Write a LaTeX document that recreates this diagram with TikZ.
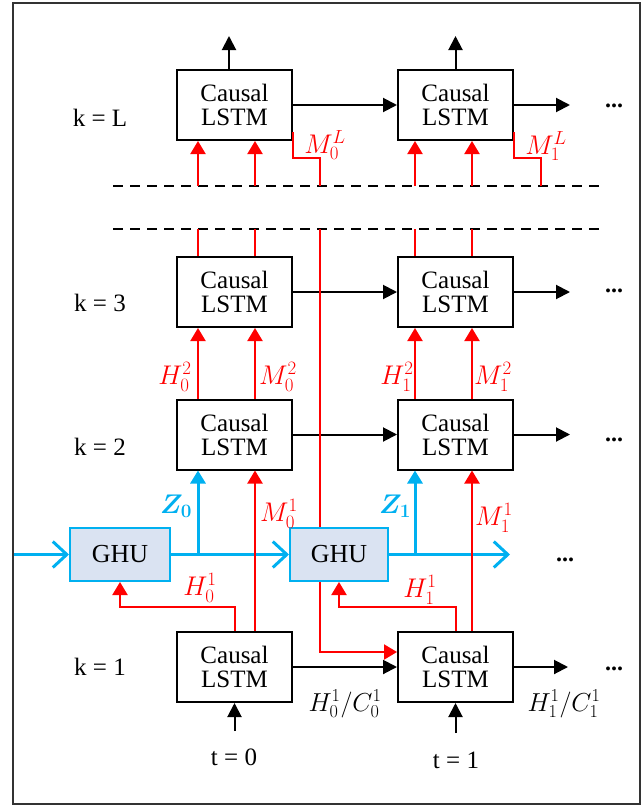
\RequirePackage{fix-cm}
\documentclass[tikz,border=0pt]{standalone}
\usepackage{amsmath,bm}
\usepackage{fontspec}
\setmainfont{Liberation Serif}
\usetikzlibrary{arrows.meta}
\definecolor{myred}{RGB}{255,0,0}
\definecolor{myblue}{RGB}{0,176,240}
\definecolor{ghufill}{RGB}{218,227,242}
\begin{document}
\begin{tikzpicture}[x=1pt,y=-1pt,
  lstm/.style={draw, line width=2pt, minimum width=115pt, minimum height=70pt, inner sep=0pt, align=center, font=\fontsize{25}{24}\selectfont},
  ghu/.style={draw=myblue, fill=ghufill, line width=2pt, minimum width=100pt, minimum height=53pt, inner sep=0pt, font=\fontsize{26}{26}\selectfont},
  blk/.style={line width=2pt, -{Triangle[length=14pt,width=14pt]}},
  redarr/.style={myred, line width=2pt, -{Triangle[length=13pt,width=15pt]}},
  redln/.style={myred, line width=2pt},
  bluearr/.style={myblue, line width=3pt, -{Straight Barb[length=14pt,width=26pt]}},
  bluez/.style={myblue, line width=3pt, -{Triangle[length=13pt,width=15pt]}},
  lbl/.style={font=\fontsize{25}{25}\selectfont, inner sep=0pt},
  rlbl/.style={text=myred, font=\fontsize{27}{27}\selectfont, inner sep=0pt},
  blbl/.style={text=myblue, font=\fontsize{27}{27}\selectfont, inner sep=0pt},
  dotlbl/.style={font=\fontsize{24}{24}\selectfont\bfseries, inner sep=0pt, anchor=base},
  dashline/.style={line width=2pt, dash pattern=on 10pt off 7pt}
]
\useasboundingbox (0,0) rectangle (644,806);
\draw[line width=2pt, draw=black!80] (13,3) rectangle (640,804);

% boxes
\node[lstm] (box0L) at (234.5,105) {Causal\\LSTM};
\node[lstm] (box1L) at (455.5,105) {Causal\\LSTM};
\node[lstm] (box03) at (234.5,292) {Causal\\LSTM};
\node[lstm] (box13) at (455.5,292) {Causal\\LSTM};
\node[lstm] (box02) at (234.5,434.5) {Causal\\LSTM};
\node[lstm] (box12) at (455.5,434.5) {Causal\\LSTM};
\node[lstm] (box01) at (234.5,667) {Causal\\LSTM};
\node[lstm] (box11) at (455.5,667) {Causal\\LSTM};

% column coordinates
\coordinate (cA0) at (198,0);
\coordinate (cB0) at (255,0);
\coordinate (cC0) at (320,0);
\coordinate (cA1) at (415,0);
\coordinate (cB1) at (472,0);
\coordinate (cD1) at (541,0);

% dashed lines
\coordinate (dl1) at (113,186); \coordinate (dr1) at (601,186);
\coordinate (dl2) at (113,229); \coordinate (dr2) at (601,229);
\draw[dashline] (dl1) -- (dr1);
\draw[dashline] (dl2) -- (dr2);

% k labels
\node[lbl] (kL) at (100,118) {k = L};
\node[lbl] (k3) at (100,303) {k = 3};
\node[lbl] (k2) at (100,447) {k = 2};
\node[lbl] (k1) at (100,667) {k = 1};

% top outputs
\coordinate (top0) at (229,36);
\coordinate (top1) at (455.5,36);
\draw[blk] (top0 |- box0L.north) -- (top0);
\draw[blk] (box1L.north) -- (top1);

% horizontal black arrows
\coordinate (oL) at (570,105);
\coordinate (o3) at (570,292);
\coordinate (o2) at (570,434.5);
\coordinate (o1) at (568,667);
\draw[blk] (box0L.east) -- (box1L.west);
\draw[blk] (box1L.east) -- (oL);
\draw[blk] (box03.east) -- (box13.west);
\draw[blk] (box13.east) -- (o3);
\draw[blk] (box02.east) -- (box12.west);
\draw[blk] (box12.east) -- (o2);
\draw[blk] (box01.east) -- (box11.west);
\draw[blk] (box11.east) -- (o1);

\node[dotlbl] (dL) at (614,107) {...};
\node[dotlbl] (d3) at (614,292) {...};
\node[dotlbl] (d2) at (614,441) {...};
\node[dotlbl] (d1) at (614,670) {...};
\node[dotlbl] (dB) at (565,561) {...};

% GHU
\node[ghu] (ghu0) at (120,554.5) {GHU};
\node[ghu, minimum width=98pt] (ghu1) at (339,554.5) {GHU};
\coordinate (bin) at (14,554.5);
\coordinate (bout) at (510,554.5);
\draw[bluearr] (bin) -- (ghu0.west);
\draw[bluearr] (ghu0.east) -- (ghu1.west);
\draw[bluearr] (ghu1.east) -- (bout);

% Z arrows
\coordinate (z0) at (198,554.5);
\coordinate (z1) at (415,554.5);
\draw[bluez] (z0) -- (z0 |- box02.south);
\draw[bluez] (z1) -- (z1 |- box12.south);
\node[blbl] (Z0) at (176,506) {$\boldsymbol{Z}_{\boldsymbol{0}}$};
\node[blbl] (Z1) at (395,506) {$\boldsymbol{Z}_{\boldsymbol{1}}$};

% red into L boxes
\draw[redarr] (cA0 |- dr1) -- (cA0 |- box0L.south);
\draw[redarr] (cB0 |- dr1) -- (cB0 |- box0L.south);
\draw[redarr] (cA1 |- dr1) -- (cA1 |- box1L.south);
\draw[redarr] (cB1 |- dr1) -- (cB1 |- box1L.south);
\draw[redln] ([yshift=9pt]box0L.south east) -- ++(0,26) -| (cC0 |- dr1);
\draw[redln] ([yshift=9pt]box1L.south east) -- ++(0,26) -| (cD1 |- dr1);
\node[rlbl] (ML0) at (325,145) {$M_0^L$};
\node[rlbl] (ML1) at (546,146) {$M_1^L$};

% red below lower dashed line
\draw[redln] (cA0 |- dr2) -- (cA0 |- box03.north);
\draw[redln] (cB0 |- dr2) -- (cB0 |- box03.north);
\draw[redln] (cA1 |- dr2) -- (cA1 |- box13.north);
\draw[redln] (cB1 |- dr2) -- (cB1 |- box13.north);
\draw[redln] (cC0 |- dr2) -- (cC0 |- ghu1.north);
\draw[redarr] (cC0 |- ghu1.south) |- ([yshift=15pt]box11.west);

% row 2 -> row 3
\draw[redarr] (cA0 |- box02.north) -- (cA0 |- box03.south);
\draw[redarr] (cB0 |- box02.north) -- (cB0 |- box03.south);
\draw[redarr] (cA1 |- box12.north) -- (cA1 |- box13.south);
\draw[redarr] (cB1 |- box12.north) -- (cB1 |- box13.south);
\node[rlbl] (H02) at (175,377) {$H_0^2$};
\node[rlbl] (M02) at (278,377) {$M_0^2$};
\node[rlbl] (H12) at (397,377) {$H_1^2$};
\node[rlbl] (M12) at (493,377) {$M_1^2$};

% row 1 -> row 2 (M)
\draw[redarr] (cB0 |- box01.north) -- (cB0 |- box02.south);
\draw[redarr] (cB1 |- box11.north) -- (cB1 |- box12.south);
\node[rlbl] (M01) at (279,514) {$M_0^1$};
\node[rlbl] (M11) at (494,518) {$M_1^1$};

% H feedback to GHU
\coordinate (hb) at (0,607);
\draw[redarr] (box01.north) -- (box01.north |- hb) -| (ghu0.south);
\draw[redarr] (box11.north) -- (box11.north |- hb) -| (ghu1.south);
\node[rlbl] (H01) at (200,588) {$H_0^1$};
\node[rlbl] (H11) at (420,590) {$H_1^1$};

% row 1 output labels
\node[lbl, font=\fontsize{26}{26}\selectfont] (HC0) at (345,704) {$H_0^1/C_0^1$};
\node[lbl, font=\fontsize{26}{26}\selectfont] (HC1) at (564,704) {$H_1^1/C_1^1$};

% inputs
\coordinate (in0) at (234.5,731);
\coordinate (in1) at (455.5,733);
\draw[blk] (in0) -- (box01.south);
\draw[blk] (in1) -- (box11.south);
\node[lbl] (t0) at (234,757) {t = 0};
\node[lbl] (t1) at (456,760) {t = 1};
\end{tikzpicture}
\end{document}
